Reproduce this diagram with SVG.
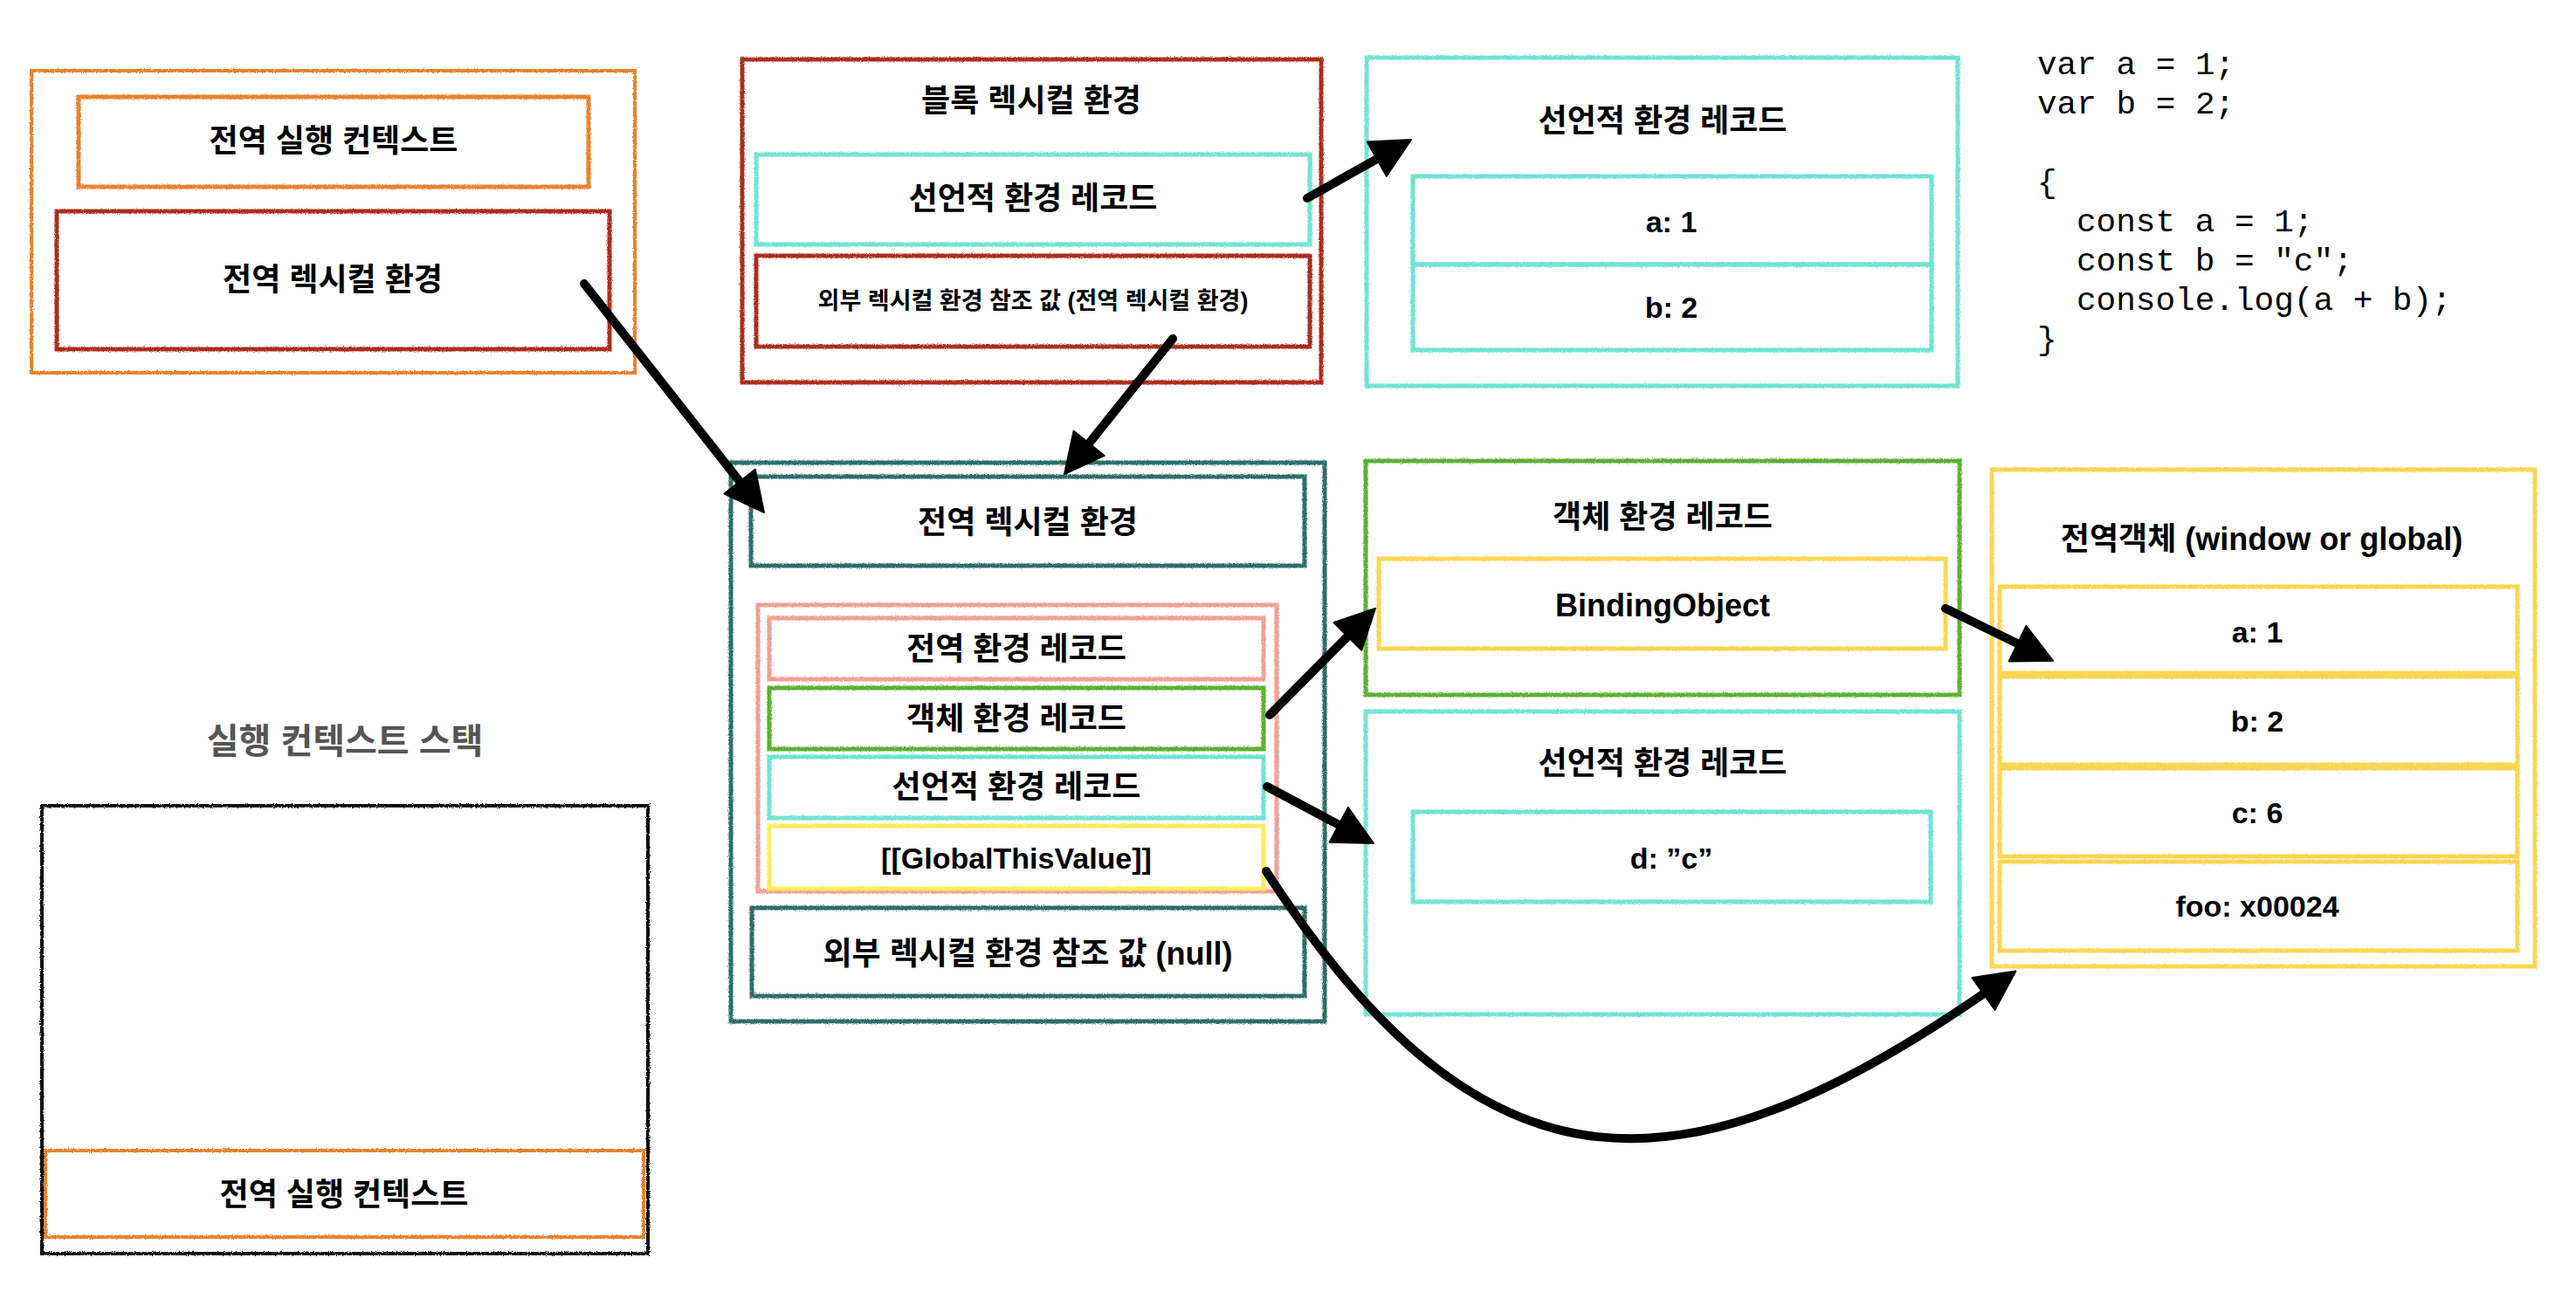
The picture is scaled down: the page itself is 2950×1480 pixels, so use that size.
<svg xmlns="http://www.w3.org/2000/svg" width="2950" height="1480" viewBox="0 0 2950 1480">
<defs>
<filter id="rough" x="-5%" y="-5%" width="110%" height="110%">
<feTurbulence type="fractalNoise" baseFrequency="0.9" numOctaves="2" seed="3" result="n"/>
<feDisplacementMap in="SourceGraphic" in2="n" scale="3" xChannelSelector="R" yChannelSelector="G"/>
</filter>
<marker id="ah" markerUnits="userSpaceOnUse" markerWidth="50" markerHeight="50" refX="25" refY="22.5" orient="auto" overflow="visible">
<path d="M0,0 L45,22.5 L0,45 Z" fill="#000" stroke="#000" stroke-width="2" stroke-linejoin="round"/>
</marker>
<style>
.box{fill:none;stroke-width:5;filter:url(#rough)}
.or{stroke:#e8822f}.dr{stroke:#ab2f1f}.cy{stroke:#6fe4d2}.tl{stroke:#2d6e67}
.sa{stroke:#f2a095}.gr{stroke:#5cb030}.ye{stroke:#fcec5c}.go{stroke:#f9d653}.bk{stroke:#111;stroke-width:4}
text{font-family:'Liberation Sans','Noto Sans CJK KR',sans-serif;fill:#000;text-anchor:middle;dominant-baseline:central}
.k{font-size:36px;font-weight:600}
.s{font-size:27px;font-weight:600}
.b{font-size:34px;font-weight:700}
.code{font-family:'Liberation Mono',monospace;font-size:37.7px;text-anchor:start;dominant-baseline:alphabetic}
.ttl{font-size:40px;font-weight:700;fill:#555}
.conn{fill:none;stroke:#000;stroke-width:10;stroke-linecap:round}
</style>
</defs>
<rect x="0" y="0" width="2950" height="1480" fill="#fff"/>

<g id="global-execution-context">
<rect class="box or" x="36" y="81" width="691" height="346" style="stroke-width:4"/>
<g id="gec-title">
<rect class="box or" x="90" y="111" width="584" height="103"/>
<text class="k" x="382" y="161">전역 실행 컨텍스트</text>
</g>
<g id="gec-lexenv">
<rect class="box dr" x="65" y="242" width="633" height="158"/>
<text class="k" x="381" y="320">전역 렉시컬 환경</text>
</g>
</g>

<g id="block-lexical-env">
<rect class="box dr" x="850" y="68" width="663" height="370"/>
<text class="k" x="1181" y="115">블록 렉시컬 환경</text>
<g id="block-decl-record">
<rect class="box cy" x="866" y="177" width="634" height="103"/>
<text class="k" x="1183" y="227">선언적 환경 레코드</text>
</g>
<g id="block-outer-ref">
<rect class="box dr" x="866" y="293" width="634" height="104"/>
<text class="s" x="1183" y="345">외부 렉시컬 환경 참조 값 (전역 렉시컬 환경)</text>
</g>
</g>

<g id="block-decl-detail">
<rect class="box cy" x="1565" y="66" width="677" height="376"/>
<text class="k" x="1904" y="138">선언적 환경 레코드</text>
<g id="block-a">
<rect class="box cy" x="1618" y="202" width="594" height="101"/>
<text class="b" x="1914" y="254">a: 1</text>
</g>
<g id="block-b">
<rect class="box cy" x="1618" y="303" width="594" height="98"/>
<text class="b" x="1914" y="352">b: 2</text>
</g>
</g>

<g id="code">
<text class="code" x="2333" y="85">var a = 1;</text>
<text class="code" x="2333" y="130">var b = 2;</text>
<text class="code" x="2333" y="220">{</text>
<text class="code" x="2378" y="265">const a = 1;</text>
<text class="code" x="2378" y="310">const b = "c";</text>
<text class="code" x="2378" y="355">console.log(a + b);</text>
<text class="code" x="2333" y="400">}</text>
</g>

<g id="global-lexical-env">
<rect class="box tl" x="837" y="530" width="680" height="640"/>
<g id="gle-title">
<rect class="box tl" x="860" y="546" width="634" height="102"/>
<text class="k" x="1177" y="598">전역 렉시컬 환경</text>
</g>
<g id="global-env-record">
<rect class="box sa" x="868" y="693" width="594" height="328"/>
<g id="ger-title">
<rect class="box sa" x="881" y="708" width="566" height="70"/>
<text class="k" x="1164" y="743">전역 환경 레코드</text>
</g>
<g id="ger-object">
<rect class="box gr" x="881" y="788" width="566" height="70"/>
<text class="k" x="1164" y="823">객체 환경 레코드</text>
</g>
<g id="ger-decl">
<rect class="box cy" x="881" y="867" width="566" height="70"/>
<text class="k" x="1164" y="901">선언적 환경 레코드</text>
</g>
<g id="ger-this">
<rect class="box ye" x="881" y="946" width="566" height="72"/>
<text class="b" x="1164" y="983">[[GlobalThisValue]]</text>
</g>
</g>
<g id="gle-outer-ref">
<rect class="box tl" x="861" y="1040" width="633" height="101"/>
<text class="k" x="1177" y="1092">외부 렉시컬 환경 참조 값 (null)</text>
</g>
</g>

<g id="object-env-record">
<rect class="box gr" x="1564" y="528" width="680" height="268"/>
<text class="k" x="1904" y="592">객체 환경 레코드</text>
<g id="binding-object">
<rect class="box go" x="1579" y="640" width="649" height="103"/>
<text class="b" x="1904" y="693" style="font-size:36px">BindingObject</text>
</g>
</g>

<g id="global-decl-record">
<rect class="box cy" x="1564" y="815" width="680" height="347"/>
<text class="k" x="1904" y="874">선언적 환경 레코드</text>
<g id="decl-d">
<rect class="box cy" x="1618" y="930" width="593" height="103"/>
<text class="b" x="1914" y="983">d: ”c”</text>
</g>
</g>

<g id="global-object">
<rect class="box go" x="2281" y="538" width="622" height="569"/>
<text class="k" x="2590" y="617">전역객체 (window or global)</text>
<g id="go-a">
<rect class="box go" x="2290" y="672" width="593" height="99"/>
<text class="b" x="2585" y="724">a: 1</text>
</g>
<g id="go-b">
<rect class="box go" x="2290" y="775" width="593" height="101"/>
<text class="b" x="2585" y="826">b: 2</text>
</g>
<g id="go-c">
<rect class="box go" x="2290" y="880" width="593" height="101"/>
<text class="b" x="2585" y="931">c: 6</text>
</g>
<g id="go-foo">
<rect class="box go" x="2290" y="987" width="593" height="102"/>
<text class="b" x="2585" y="1038">foo: x00024</text>
</g>
</g>

<g id="ec-stack">
<text class="ttl" x="395" y="849">실행 컨텍스트 스택</text>
<rect class="box bk" x="48" y="923" width="694" height="513"/>
<g id="stack-gec">
<rect class="box or" x="52" y="1318" width="685" height="99" style="stroke-width:4"/>
<text class="k" x="394" y="1368">전역 실행 컨텍스트</text>
</g>
</g>

<g id="connectors">
<path class="conn" d="M669,325 L862.6,571.3" marker-end="url(#ah)"/>
<path class="conn" d="M1343,388 L1231.5,527.4" marker-end="url(#ah)"/>
<path class="conn" d="M1497,227 L1598.6,169.8" marker-end="url(#ah)"/>
<path class="conn" d="M1454,819 L1560.9,711.2" marker-end="url(#ah)"/>
<path class="conn" d="M1451,901 L1555.3,956.6" marker-end="url(#ah)"/>
<path class="conn" d="M2228,697 L2333,748.2" marker-end="url(#ah)"/>
<path class="conn" d="M1450,998 C1700,1385 1930,1380 2292,1124" marker-end="url(#ah)"/>
</g>
</svg>
